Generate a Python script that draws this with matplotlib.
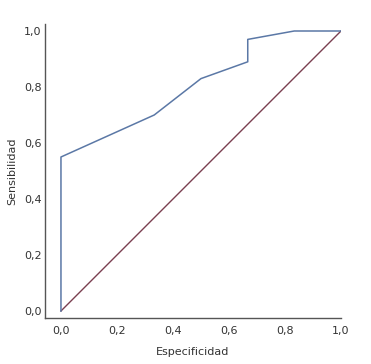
import matplotlib
matplotlib.use("Agg")
import matplotlib.pyplot as plt
from matplotlib.ticker import FuncFormatter

fpr = [0.0, 0.0, 0.333, 0.5, 0.667, 0.667, 0.833, 1.0]
tpr = [0.0, 0.55, 0.70, 0.83, 0.89, 0.97, 1.0, 1.0]
ref_x = [0.0, 1.0]
ref_y = [0.0, 1.0]
ticks = [0.0, 0.2, 0.4, 0.6, 0.8, 1.0]

fig = plt.figure(figsize=(3.71, 3.64), dpi=100)
ax = fig.add_axes([45/371, 1-318/364, (341-45)/371, (318-24)/364])
ax.plot(ref_x, ref_y, color="#7a3f50", lw=1.0)
ax.plot(fpr, tpr, color="#5b78a6", lw=1.1)
ax.set_xlim(-0.057, 1.0)
ax.set_ylim(-0.025, 1.025)
ax.set_xticks(ticks)
ax.set_yticks(ticks)
fmt = FuncFormatter(lambda v, p: f"{v:.1f}".replace(".", ","))
ax.xaxis.set_major_formatter(fmt)
ax.yaxis.set_major_formatter(fmt)
ax.tick_params(length=0, labelsize=8, colors="#333333")
ax.tick_params(axis="x", pad=6)
ax.tick_params(axis="y", pad=2.5)
for s in ["top", "right"]:
    ax.spines[s].set_visible(False)
for s in ["left", "bottom"]:
    ax.spines[s].set_color("#555555")
    ax.spines[s].set_linewidth(1.0)
ax.set_xlabel("Especificidad", fontsize=8, color="#333333", labelpad=8)
ax.set_ylabel("Sensibilidad", fontsize=8, color="#333333", labelpad=5)
fig.savefig("out.png", dpi=100)
